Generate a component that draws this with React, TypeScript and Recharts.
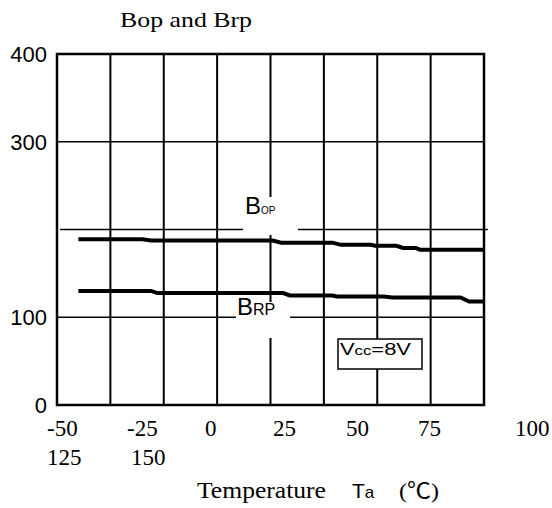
import {
  LineChart,
  Line,
  XAxis,
  YAxis,
  CartesianGrid,
  ReferenceLine,
  ReferenceArea,
} from "recharts";

// temperature grid (deg C) and field ticks (G)
const tempTicks = [-50, -25, 0, 25, 50, 75, 100, 125, 150];
const fieldTicks = [0, 100, 300, 400];

// Bop curve
const bopTemps = [-40, -10, -6, 51, 55, 79, 83, 97, 99, 109, 112, 118, 120, 150];
const bopValues = [189, 189, 187.5, 187.5, 185, 185, 182.5, 182.5, 181.5, 181.5, 179, 179, 177, 177];

// Brp curve
const brpTemps = [-40, -6, -3, 56, 59, 79, 81, 103, 107, 139, 143, 150];
const brpValues = [130, 130, 127.5, 127.5, 124.8, 124.8, 123.6, 123.6, 122.5, 122.5, 118, 118];

// the x labels are wrapped text in the original, not aligned to the grid
const xLabelsRow1 = ["-50", "-25", "0", "25", "50", "75", "100"];
const xLabelsRow2 = ["125", "150"];
const row1Left = [47, 127, 205, 273, 346, 418, 515];
const row2Left = [47, 131];

const bopData = bopTemps.map((t, i) => ({ t, b: bopValues[i] }));
const brpData = brpTemps.map((t, i) => ({ t, b: brpValues[i] }));

const serif = "'Liberation Serif', 'Times New Roman', serif";
const sans = "'Liberation Sans', Arial, sans-serif";

function YTick(props: any) {
  const { x, y, payload } = props;
  return (
    <text x={x + 1} y={y + 8} textAnchor="end" fontFamily={sans} fontSize={22} fill="#000">
      {payload.value}
    </text>
  );
}

export default function App() {
  return (
    <div style={{ position: "absolute", left: 0, top: 0, width: 552, height: 508, background: "#fff" }}>
      <LineChart width={552} height={508} margin={{ top: 54, right: 68, bottom: 103, left: 0 }}>
        <XAxis dataKey="t" type="number" domain={[-50, 150]} ticks={tempTicks} hide />
        <YAxis
          type="number"
          domain={[0, 400]}
          ticks={fieldTicks}
          width={57}
          axisLine={false}
          tickLine={false}
          tickMargin={5}
          tick={<YTick />}
        />
        <CartesianGrid horizontal={false} stroke="#000" strokeWidth={2} verticalValues={tempTicks} />
        <CartesianGrid vertical={false} stroke="#000" strokeWidth={1.5} horizontalValues={fieldTicks} />
        <ReferenceLine
          segment={[{ x: -48.6, y: 200 }, { x: 151.8, y: 200 }]}
          stroke="#000"
          strokeWidth={1.5}
          ifOverflow="visible"
        />
        <ReferenceArea x1={-50} x2={150} y1={0} y2={400} fill="none" fillOpacity={0} stroke="#000" strokeWidth={2.5} />
        <Line data={bopData} dataKey="b" type="linear" stroke="#000" strokeWidth={4} dot={false} isAnimationActive={false} />
        <Line data={brpData} dataKey="b" type="linear" stroke="#000" strokeWidth={4} dot={false} isAnimationActive={false} />
      </LineChart>

      <svg width={552} height={508} style={{ position: "absolute", left: 0, top: 0, pointerEvents: "none" }}>
        <text x={120} y={27} fontFamily={serif} fontSize={22} textLength={132} lengthAdjust="spacingAndGlyphs">
          Bop and Brp
        </text>

        <rect x={243} y={197} width={55} height={38} fill="#fff" />
        <text x={245} y={214} fontFamily={sans} fontSize={24}>
          B<tspan fontSize={10}>OP</tspan>
        </text>

        <rect x={236} y={302} width={54} height={36} fill="#fff" />
        <text x={237} y={315} fontFamily={sans} fontSize={24}>
          B<tspan fontSize={16}>RP</tspan>
        </text>

        <rect x={338} y={339} width={84} height={30} fill="#fff" stroke="#000" strokeWidth={1.5} />
        <text x={340} y={355} fontFamily={sans} fontSize={17} textLength={71} lengthAdjust="spacingAndGlyphs">
          V<tspan fontSize={13}>cc</tspan>=8V
        </text>

        {xLabelsRow1.map((s, i) => (
          <text key={s} x={row1Left[i]} y={436} fontFamily={serif} fontSize={23}>
            {s}
          </text>
        ))}
        {xLabelsRow2.map((s, i) => (
          <text key={s} x={row2Left[i]} y={465} fontFamily={serif} fontSize={23}>
            {s}
          </text>
        ))}

        <text x={197} y={498} fontFamily={serif} fontSize={23} textLength={129} lengthAdjust="spacingAndGlyphs">
          Temperature
        </text>
        <text x={352} y={498} fontFamily={sans} fontSize={21}>
          T<tspan fontSize={17}>a</tspan>
        </text>
        <text x={399} y={498} fontFamily={"'Liberation Serif', 'Noto Sans CJK JP', serif"} fontSize={22} textLength={40} lengthAdjust="spacingAndGlyphs">
          (℃)
        </text>
      </svg>
    </div>
  );
}
